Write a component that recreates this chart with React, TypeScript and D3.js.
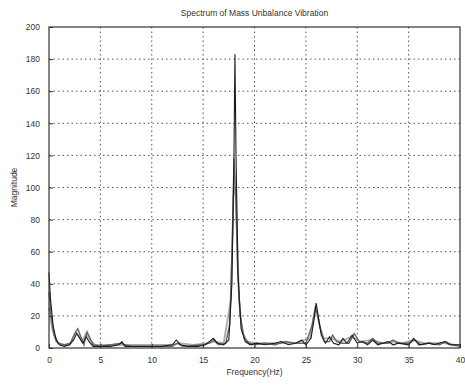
import React, { useEffect, useRef } from 'react';
import * as d3 from 'd3';

// [frequency Hz, magnitude]
const runA: [number, number][] = [
  [0, 47], [0.15, 30], [0.4, 14], [0.7, 5], [1.0, 2], [1.5, 1], [2.0, 2], [2.4, 5], [2.7, 9], [3.0, 6],
  [3.3, 3], [3.6, 7], [3.9, 4], [4.3, 1], [5, 1], [6, 1], [6.8, 2], [7.1, 4], [7.4, 1], [8, 1],
  [9, 1], [10, 1], [11, 1], [12, 2], [12.4, 5], [12.8, 2], [13.5, 1], [14.5, 1], [15.2, 2], [15.6, 4],
  [16.0, 6], [16.4, 3], [17.0, 2], [17.5, 5], [17.8, 40], [18.0, 120], [18.1, 183], [18.2, 120], [18.4, 45], [18.7, 12],
  [19.1, 4], [19.6, 2], [20.2, 3], [21, 2], [22, 3], [22.6, 4], [23.3, 2], [24, 3], [24.6, 5], [25.0, 2],
  [25.5, 6], [25.8, 18], [26.0, 28], [26.2, 20], [26.5, 8], [26.9, 3], [27.3, 7], [27.7, 3], [28.2, 2], [28.6, 6],
  [29.0, 3], [29.5, 8], [30.0, 3], [30.5, 4], [31.0, 2], [31.5, 5], [32, 2], [33, 4], [33.5, 2], [34, 3],
  [35, 2], [35.5, 6], [36, 2], [37, 3], [37.5, 2], [38.5, 4], [39, 2], [40, 2],
];

const runB: [number, number][] = [
  [0, 35], [0.2, 20], [0.5, 8], [0.9, 3], [1.5, 2], [2.1, 3], [2.5, 9], [2.8, 12], [3.1, 7], [3.4, 2],
  [3.7, 10], [4.0, 6], [4.3, 2], [5, 1], [6, 2], [7, 3], [7.4, 2], [8, 1], [10, 1], [12, 1],
  [12.5, 3], [13, 1], [15, 2], [15.6, 3], [16.0, 5], [16.5, 2], [17.2, 3], [17.6, 15], [17.9, 80], [18.0, 118],
  [18.2, 90], [18.35, 50], [18.6, 20], [19, 6], [19.5, 3], [20, 2], [21, 3], [22, 2], [23, 4], [24, 3],
  [25, 3], [25.6, 14], [25.9, 25], [26.1, 22], [26.4, 12], [26.8, 4], [27.3, 4], [27.6, 8], [28, 4], [28.5, 3],
  [29.2, 3], [29.7, 9], [30.2, 4], [31, 3], [31.5, 6], [32, 3], [33, 3], [33.5, 5], [34, 3], [35, 3],
  [35.6, 5], [36.2, 2], [37, 3], [38, 2], [38.6, 4], [39.2, 2], [40, 1],
];

const runC: [number, number][] = [
  [0, 25], [0.3, 12], [0.7, 4], [1.2, 2], [2.0, 2], [2.6, 10], [2.9, 8], [3.2, 4], [3.6, 9], [4.0, 5],
  [4.5, 2], [6, 2], [7, 2], [9, 2], [12, 2], [12.6, 3], [14, 2], [15.5, 3], [16.1, 4], [17, 3],
  [17.7, 30], [17.95, 95], [18.15, 100], [18.3, 70], [18.5, 30], [18.8, 10], [19.3, 4], [20, 3], [22, 3], [24, 3],
  [25.4, 6], [25.8, 20], [26.0, 24], [26.3, 15], [26.7, 6], [27.5, 6], [28.4, 4], [29.4, 7], [30.3, 4], [31.4, 5],
  [32.5, 3], [33.4, 4], [34.5, 3], [35.4, 5], [36.5, 3], [37.6, 3], [38.4, 3], [39.5, 2], [40, 2],
];

const xTicks = [0, 5, 10, 15, 20, 25, 30, 35, 40];
const yTicks = [0, 20, 40, 60, 80, 100, 120, 140, 160, 180, 200];

const App = () => {
  const svgRef = useRef<SVGSVGElement>(null);

  useEffect(() => {
    const svg = d3.select(svgRef.current);
    svg.selectAll('*').remove();

    const margin = { top: 27, right: 5, bottom: 37, left: 49 };
    const width = 465 - margin.left - margin.right;
    const height = 385 - margin.top - margin.bottom;
    const font = 'Liberation Sans, Arial, sans-serif';

    const g = svg.append('g').attr('transform', `translate(${margin.left},${margin.top})`);

    const x = d3.scaleLinear().domain([0, 40]).range([0, width]);
    const y = d3.scaleLinear().domain([0, 200]).range([height, 0]);

    // dotted grid
    g.selectAll('.vgrid')
      .data(xTicks.slice(1, -1))
      .enter()
      .append('line')
      .attr('x1', d => x(d))
      .attr('x2', d => x(d))
      .attr('y1', 0)
      .attr('y2', height)
      .attr('stroke', '#555')
      .attr('stroke-width', 1)
      .attr('stroke-dasharray', '1.5,3');

    g.selectAll('.hgrid')
      .data(yTicks.slice(1, -1))
      .enter()
      .append('line')
      .attr('x1', 0)
      .attr('x2', width)
      .attr('y1', d => y(d))
      .attr('y2', d => y(d))
      .attr('stroke', '#555')
      .attr('stroke-width', 1)
      .attr('stroke-dasharray', '1.5,3');

    const line = d3.line<[number, number]>()
      .x(d => x(d[0]))
      .y(d => y(d[1]));

    const series: { data: [number, number][]; color: string; w: number }[] = [
      { data: runC, color: '#aaa', w: 1.8 },
      { data: runB, color: '#666', w: 1.4 },
      { data: runA, color: '#1a1a1a', w: 1.1 },
    ];

    series.forEach(s => {
      g.append('path')
        .datum(s.data)
        .attr('fill', 'none')
        .attr('stroke', s.color)
        .attr('stroke-width', s.w)
        .attr('d', line);
    });

    // axes, ticks inside like MATLAB
    const xAxis = g.append('g')
      .attr('transform', `translate(0,${height})`)
      .call(d3.axisBottom(x).tickValues(xTicks).tickSizeInner(-4).tickSizeOuter(0).tickPadding(9));
    const yAxis = g.append('g')
      .call(d3.axisLeft(y).tickValues(yTicks).tickSizeInner(-4).tickSizeOuter(0).tickPadding(9));

    [xAxis, yAxis].forEach(a => {
      a.selectAll('text').style('font-family', font).style('font-size', '8.5px').style('fill', '#333');
      a.selectAll('.tick line').attr('stroke', '#333');
      a.select('.domain').remove();
    });

    g.append('rect')
      .attr('width', width)
      .attr('height', height)
      .attr('fill', 'none')
      .attr('stroke', '#333')
      .attr('stroke-width', 1.2);

    svg.append('text')
      .attr('x', margin.left + width / 2)
      .attr('y', 16)
      .attr('text-anchor', 'middle')
      .style('font-family', font)
      .style('font-size', '8.5px')
      .style('fill', '#333')
      .text('Spectrum of Mass Unbalance Vibration');

    svg.append('text')
      .attr('x', margin.left + width / 2)
      .attr('y', 375)
      .attr('text-anchor', 'middle')
      .style('font-family', font)
      .style('font-size', '8.5px')
      .style('fill', '#333')
      .text('Frequency(Hz)');

    svg.append('text')
      .attr('transform', `translate(17,${margin.top + height / 2}) rotate(-90)`)
      .attr('text-anchor', 'middle')
      .style('font-family', font)
      .style('font-size', '8.5px')
      .style('fill', '#333')
      .text('Magnitude');
  }, []);

  return (
    <svg
      ref={svgRef}
      width={465}
      height={385}
      style={{ position: 'absolute', left: 0, top: 0, background: '#fff' }}
    />
  );
};

export default App;
